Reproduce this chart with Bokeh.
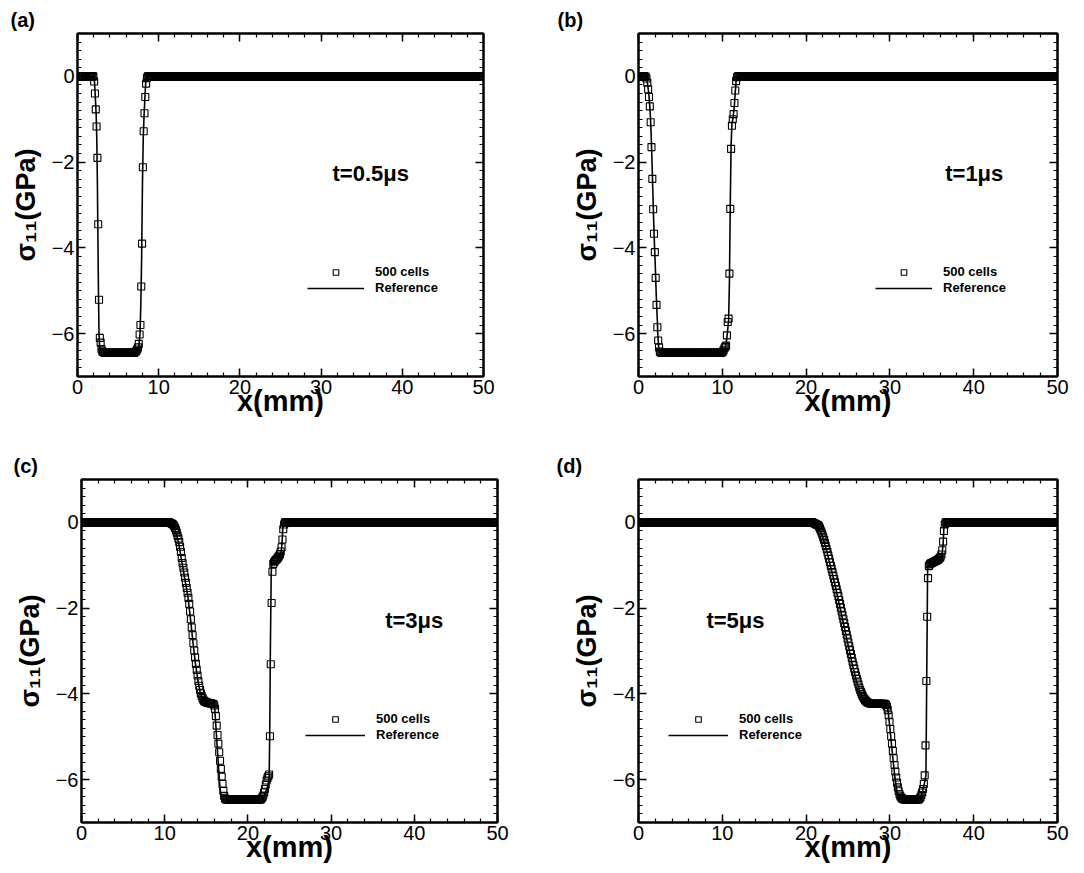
import numpy as np
from bokeh.plotting import figure
from bokeh.models import (FixedTicker, LinearAxis, Range1d, Legend, LegendItem, Label)
from bokeh.layouts import column, row
from bokeh.embed import file_html
from bokeh.resources import INLINE

# 500 finite-volume cells over a 50 mm bar: cell-centre positions (mm)
n_cells = 500
cell_x = (np.arange(n_cells) + 0.5) * 0.1

# ---- t = 0.5 us : 500-cell solution (sigma_11, GPa) ----
sq_a = ([0.0] * 20
        + [-0.12, -0.40, -0.77, -1.17, -1.90, -3.45, -5.21, -6.10, -6.21, -6.36]
        + [-6.41, -6.43, -6.44] + [-6.45] * 37 + [-6.44, -6.42, -6.40, -6.37]
        + [-6.32, -6.24, -6.02, -5.80, -4.90, -3.90, -2.12, -1.28, -0.86, -0.48, -0.17]
        + [-0.04] + [0.0] * 414)
ref_a_x = [0, 2.0, 2.1, 2.2, 2.3, 2.38, 2.45, 2.5, 2.58, 2.65, 2.72, 2.85, 3.2,
           7.2, 7.4, 7.55, 7.7, 7.8, 7.9, 8.0, 8.1, 8.2, 8.3, 8.4, 8.5, 50]
ref_a_y = [0, 0, -0.15, -0.5, -0.9, -1.5, -2.5, -3.5, -5.0, -6.0, -6.3, -6.42, -6.45,
           -6.45, -6.4, -6.3, -6.0, -5.3, -4.2, -2.5, -1.4, -0.9, -0.5, -0.15, 0, 0]

# ---- t = 1 us ----
sq_b = ([0.0] * 8
        + [-0.01, -0.05, -0.15, -0.30, -0.48, -0.70, -1.07, -1.65, -2.39, -3.10,
           -3.67, -4.10, -4.70, -5.33, -5.85, -6.16, -6.32, -6.42]
        + [-6.44] + [-6.45] * 72 + [-6.44, -6.42, -6.39, -6.34, -6.31]
        + [-6.28, -6.04, -5.73, -5.65, -4.60, -3.09, -1.69, -1.15, -1.00, -0.88,
           -0.62, -0.33, -0.11, -0.02]
        + [0.0] * 382)
ref_b_x = [0, 0.8, 0.95, 1.1, 1.25, 1.4, 1.5, 1.6, 1.7, 1.8, 1.9, 2.0, 2.1, 2.2, 2.25,
           2.3, 2.4, 2.5, 2.8, 10.0, 10.3, 10.45, 10.6, 10.75, 10.85, 10.95, 11.05,
           11.15, 11.3, 11.45, 11.55, 11.65, 11.75, 50]
ref_b_y = [0, 0, -0.05, -0.2, -0.45, -0.85, -1.3, -1.9, -2.6, -3.3, -3.9, -4.4, -5.0,
           -5.5, -5.7, -6.0, -6.3, -6.42, -6.45, -6.45, -6.38, -6.25, -6.0, -5.7, -4.8,
           -3.0, -1.6, -1.1, -0.95, -0.65, -0.35, -0.1, 0, 0]

# ---- t = 3 us ----
sq_c = ([0.0] * 106
        + [-0.01, -0.02, -0.03, -0.04, -0.06, -0.09, -0.13, -0.18, -0.24, -0.31,
           -0.38, -0.46, -0.57, -0.69, -0.83, -0.95, -1.06, -1.17, -1.29, -1.41,
           -1.53, -1.64, -1.76, -1.90, -2.08, -2.26, -2.45, -2.63, -2.82, -2.99,
           -3.15, -3.30, -3.44, -3.57, -3.70, -3.81, -3.91, -3.99, -4.05, -4.10,
           -4.14, -4.17, -4.18, -4.19, -4.20, -4.21, -4.21, -4.22, -4.22, -4.22,
           -4.23, -4.23, -4.24, -4.27, -4.35, -4.52, -4.74, -4.96, -5.16, -5.36,
           -5.56, -5.75, -5.93, -6.10, -6.26, -6.38, -6.44, -6.46]
        + [-6.46] * 42
        + [-6.44, -6.41, -6.37, -6.30, -6.22, -6.12, -6.02, -5.96, -5.92, -5.88,
           -4.99, -3.31, -1.88, -1.15, -0.97, -0.93, -0.90, -0.88, -0.86, -0.84,
           -0.81, -0.78, -0.74, -0.68, -0.58, -0.40, -0.16, -0.05]
        + [0.0] * 256)
ref_c_x = [0, 10.5, 10.9, 11.3, 11.7, 12.0, 12.4, 12.8, 13.1, 13.4, 13.7, 14.0, 14.3,
           14.6, 15.0, 15.8, 16.0, 16.1, 16.3, 16.5, 16.65, 16.8, 17.0, 21.5, 21.9,
           22.3, 22.55, 22.62, 22.7, 22.8, 22.85, 23.0, 23.5, 23.8, 24.0, 24.1, 24.2,
           24.3, 50]
ref_c_y = [0, 0, -0.05, -0.2, -0.5, -0.85, -1.3, -1.75, -2.25, -2.8, -3.3, -3.7, -4.0,
           -4.15, -4.2, -4.23, -4.3, -4.6, -5.2, -5.8, -6.2, -6.43, -6.47, -6.47, -6.4,
           -6.2, -6.0, -5.0, -3.0, -1.2, -1.0, -0.95, -0.88, -0.78, -0.68, -0.5, -0.1,
           0, 0]

# ---- t = 5 us ----
sq_d = ([0.0] * 208
        + [-0.01, -0.02, -0.03, -0.04, -0.05, -0.06, -0.07, -0.10, -0.14, -0.19,
           -0.24, -0.29, -0.35, -0.41, -0.48, -0.55, -0.62, -0.69, -0.77, -0.85,
           -0.93, -1.01, -1.09, -1.16, -1.24, -1.32, -1.40, -1.48, -1.56, -1.64,
           -1.72, -1.81, -1.90, -1.99, -2.08, -2.17, -2.26, -2.35, -2.44, -2.53,
           -2.62, -2.71, -2.80, -2.89, -2.98, -3.07, -3.16, -3.25, -3.33, -3.41,
           -3.49, -3.57, -3.64, -3.71, -3.78, -3.85, -3.91, -3.96, -4.01, -4.05,
           -4.09, -4.12, -4.15, -4.17, -4.19, -4.20, -4.21, -4.22, -4.22, -4.23,
           -4.23, -4.23]
        + [-4.23] * 14 + [-4.24, -4.26, -4.30]
        + [-4.38, -4.50, -4.65, -4.82, -4.99, -5.16, -5.33, -5.50, -5.66, -5.81,
           -5.95, -6.07, -6.18, -6.27, -6.34, -6.39, -6.42, -6.44, -6.45]
        + [-6.46] * 19
        + [-6.44, -6.41, -6.36, -6.30, -6.22, -6.10, -5.90, -5.20, -3.70, -2.20,
           -1.30, -1.02, -0.98, -0.96, -0.95, -0.94, -0.93, -0.92, -0.91, -0.90,
           -0.89, -0.88, -0.87, -0.85, -0.83, -0.80, -0.75, -0.65, -0.45, -0.20,
           -0.05]
        + [0.0] * 134)
ref_d_x = [0, 20.7, 21.2, 21.6, 22.0, 22.5, 23.0, 23.5, 24.0, 24.5, 25.0, 25.5, 26.0,
           26.5, 27.0, 27.5, 29.6, 29.75, 30.0, 30.3, 30.6, 30.85, 31.1, 31.4, 33.4,
           33.8, 34.1, 34.3, 34.4, 34.5, 34.6, 35.2, 35.9, 36.2, 36.35, 36.45, 36.55, 50]
ref_d_y = [0, 0, -0.05, -0.15, -0.35, -0.7, -1.1, -1.5, -1.95, -2.4, -2.85, -3.3, -3.7,
           -4.0, -4.17, -4.22, -4.23, -4.35, -4.8, -5.4, -5.95, -6.3, -6.43, -6.46, -6.46,
           -6.35, -6.1, -5.9, -3.5, -1.1, -1.0, -0.93, -0.86, -0.78, -0.5, -0.1, 0, 0]

for arr in (sq_a, sq_b, sq_c, sq_d):
    assert len(arr) == n_cells, len(arr)

x_major = [0, 10, 20, 30, 40, 50]
x_minor = list(range(0, 51, 2))
y_major = [-6, -4, -2, 0]
y_minor = [round(v, 1) for v in np.arange(-7.0, 1.01, 0.2)]

FONT = "Liberation Sans"


def style_axis(ax, show_labels):
    ax.axis_line_width = 2
    ax.axis_line_color = "black"
    ax.major_tick_in = 8
    ax.major_tick_out = 0
    ax.minor_tick_in = 4
    ax.minor_tick_out = 0
    ax.major_tick_line_width = 1.5
    ax.minor_tick_line_width = 1.2
    ax.major_tick_line_color = "black"
    ax.minor_tick_line_color = "black"
    ax.major_label_text_font = FONT
    if show_labels:
        ax.major_label_text_color = "black"
        ax.major_label_text_font_size = "20px"
        ax.major_label_standoff = 3
    else:
        # mirrored frame axis: ticks only, no numbers
        ax.major_label_text_color = None
        ax.major_label_text_font_size = "1px"
        ax.major_label_standoff = 0


def panel(tag, tag_offset, tlabel, tlabel_pos, sq_y, ref_x, ref_y,
          b_left, f_width, b_right, b_top, b_bottom, legend_xy, glyph_w):
    p = figure(frame_width=f_width, frame_height=343,
               min_border_left=b_left, min_border_right=b_right,
               min_border_top=b_top, min_border_bottom=b_bottom,
               x_range=Range1d(0, 50), y_range=Range1d(-7, 1),
               output_backend="svg", toolbar_location=None)
    p.background_fill_color = "white"
    p.border_fill_color = "white"
    p.outline_line_color = "black"
    p.outline_line_width = 2
    p.xgrid.visible = False
    p.ygrid.visible = False

    # panel tag, e.g. "(a)", shown as the figure title at the top-left corner
    p.title.text = tag
    p.title.align = "left"
    p.title.offset = tag_offset
    p.title.standoff = 5
    p.title.text_font = FONT
    p.title.text_font_style = "bold"
    p.title.text_font_size = "20px"
    p.title.text_color = "black"

    xt = FixedTicker(ticks=x_major, minor_ticks=x_minor)
    yt = FixedTicker(ticks=y_major, minor_ticks=y_minor)

    p.xaxis.ticker = xt
    p.yaxis.ticker = yt
    style_axis(p.xaxis[0], True)
    style_axis(p.yaxis[0], True)
    p.xaxis.axis_label = "x(mm)"
    p.xaxis.axis_label_text_font = FONT
    p.xaxis.axis_label_text_font_style = "bold"
    p.xaxis.axis_label_text_font_size = "29px"
    p.xaxis.axis_label_text_color = "black"
    p.xaxis.axis_label_standoff = -12
    p.yaxis.axis_label = "σ₁₁(GPa)"
    p.yaxis.axis_label_text_font = FONT
    p.yaxis.axis_label_text_font_style = "bold"
    p.yaxis.axis_label_text_font_size = "27px"
    p.yaxis.axis_label_text_color = "black"
    p.yaxis.axis_label_standoff = 8

    top_ax = LinearAxis(ticker=xt)
    style_axis(top_ax, False)
    p.add_layout(top_ax, "above")
    right_ax = LinearAxis(ticker=yt)
    style_axis(right_ax, False)
    p.add_layout(right_ax, "right")

    ln = p.line(ref_x, ref_y, line_color="black", line_width=1.6)
    sq = p.scatter(cell_x, sq_y, marker="square", size=7, line_color="black",
                   line_width=1.1, fill_color=None)

    leg = Legend(items=[LegendItem(label="500 cells", renderers=[sq]),
                        LegendItem(label="Reference", renderers=[ln])],
                 location=legend_xy, orientation="vertical",
                 glyph_width=glyph_w, glyph_height=14, label_height=14,
                 label_standoff=11, spacing=1, padding=0, margin=0,
                 border_line_color=None, background_fill_alpha=0,
                 label_text_font=FONT, label_text_font_style="bold",
                 label_text_font_size="13px", label_text_color="black")
    p.add_layout(leg)

    p.add_layout(Label(x=tlabel_pos[0], y=tlabel_pos[1], text=tlabel,
                       text_font=FONT, text_font_style="bold",
                       text_font_size="22px", text_baseline="middle",
                       text_color="black"))
    return p


pa = panel("(a)", -67, "t=0.5μs", (31.4, -2.26), sq_a, ref_a_x, ref_a_y,
           77, 406, 57, 33, 64, (230, 81), 57)
pb = panel("(b)", -81, "t=1μs", (36.6, -2.26), sq_b, ref_b_x, ref_b_y,
           98, 419, 27, 33, 64, (237, 81), 57)
pc = panel("(c)", -68, "t=3μs", (36.5, -2.29), sq_c, ref_c_x, ref_c_y,
           81, 416, 43, 39, 51, (224, 80), 60)
pd = panel("(d)", -82, "t=5μs", (8.1, -2.29), sq_d, ref_d_x, ref_d_y,
           98, 419, 27, 39, 51, (30, 80), 60)

layout = column(row(pa, pb), row(pc, pd))

with open("out.html", "w") as f:
    f.write(file_html(layout, INLINE))
